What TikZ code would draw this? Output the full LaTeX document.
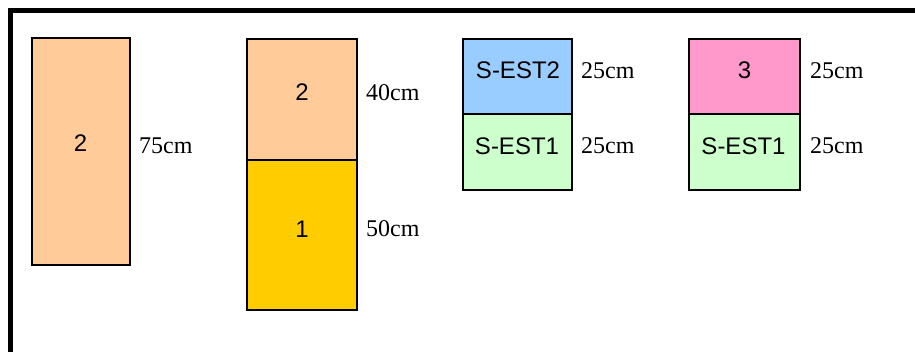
\documentclass[tikz,border=0pt]{standalone}
\usepackage{fontspec}
\setmainfont{Liberation Serif}
\newfontfamily\arialf{Liberation Sans}
\definecolor{peach}{HTML}{FFCC99}
\definecolor{gold}{HTML}{FFCC00}
\definecolor{skyb}{HTML}{99CCFF}
\definecolor{mint}{HTML}{CCFFCC}
\definecolor{pinkc}{HTML}{FF99CC}
\begin{document}
\begin{tikzpicture}[x=1pt,y=-1pt,
  box/.style={draw, line width=1.8pt, inner sep=0pt},
  boxtext/.style={inner sep=0pt, font=\arialf\fontsize{24}{24}\selectfont},
  dim/.style={anchor=west, inner sep=0pt, font=\fontsize{24}{24}\selectfont}]
\useasboundingbox (0,0) rectangle (915,352);
\draw[line width=5pt] (920,10.5) -- (10.5,10.5) -- (10.5,360);
% column 1
\node[box, fill=peach, minimum width=98pt, minimum height=227pt] (a) at (81,151.5) {};
\node[boxtext] (ta) at (80.5,143) {2};
\node[dim] (da) at (139,145.5) {75cm};
% column 2
\node[box, fill=peach, minimum width=110pt, minimum height=121pt] (b2) at (302,99.5) {};
\node[box, fill=gold, minimum width=110pt, minimum height=150pt] (b1) at (302,235) {};
\node[boxtext] (tb2) at (302,92.5) {2};
\node[boxtext] (tb1) at (302,229.5) {1};
\node[dim] (db2) at (366,93) {40cm};
\node[dim] (db1) at (366,229) {50cm};
% column 3
\node[box, fill=skyb, minimum width=109pt, minimum height=75pt] (c2) at (517.5,76.5) {};
\node[box, fill=mint, minimum width=109pt, minimum height=76pt] (c1) at (517.5,152) {};
\node[boxtext] (tc2) at (518,70.5) {S-EST2};
\node[boxtext] (tc1) at (517,146) {S-EST1};
\node[dim] (dc2) at (581,70.5) {25cm};
\node[dim] (dc1) at (581,146) {25cm};
% column 4
\node[box, fill=pinkc, minimum width=111pt, minimum height=75pt] (d2) at (744.5,76.5) {};
\node[box, fill=mint, minimum width=111pt, minimum height=76pt] (d1) at (744.5,152) {};
\node[boxtext] (td2) at (744.5,70.5) {3};
\node[boxtext] (td1) at (743.5,146) {S-EST1};
\node[dim] (dd2) at (810,70.5) {25cm};
\node[dim] (dd1) at (810,146) {25cm};
\end{tikzpicture}
\end{document}
